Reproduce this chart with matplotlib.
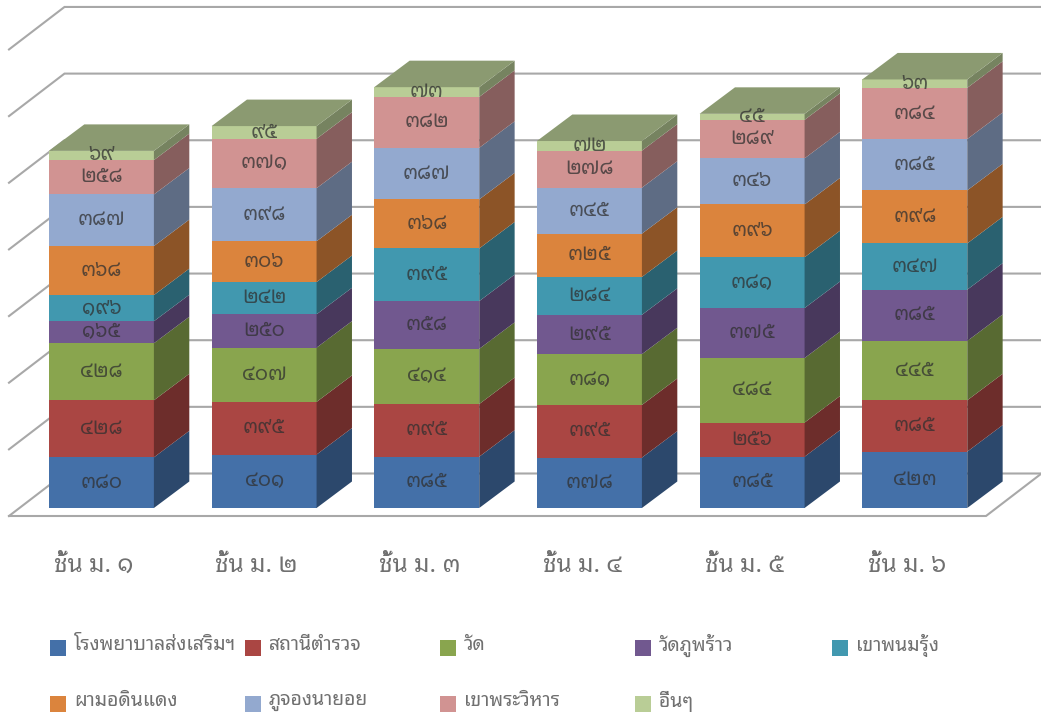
import matplotlib
matplotlib.use("Agg")
import matplotlib.pyplot as plt
from matplotlib.patches import Polygon, Rectangle
from matplotlib.colors import to_rgb

plt.rcParams['font.family'] = ['Noto Sans Thai Looped', 'Noto Sans Thai', 'DejaVu Sans']

W, H = 1041, 718

categories = ["ชั้น ม. ๑", "ชั้น ม. ๒", "ชั้น ม. ๓", "ชั้น ม. ๔", "ชั้น ม. ๕", "ชั้น ม. ๖"]
series_names = ["โรงพยาบาลส่งเสริมฯ", "สถานีตำรวจ", "วัด", "วัดภูพร้าว", "เขาพนมรุ้ง",
                "ผามอดินแดง", "ภูจองนายอย", "เขาพระวิหาร", "อื่นๆ"]
colors = ["#4470A8", "#AA4643", "#89A54E", "#71588F", "#4198AF",
          "#DB843D", "#93A9CF", "#D19392", "#B9CD96"]

hospital = [380, 401, 385, 378, 385, 423]
police = [428, 395, 395, 395, 256, 385]
temple = [428, 407, 414, 381, 484, 445]
phu_phrao = [165, 250, 358, 295, 375, 385]
phanom_rung = [196, 242, 395, 284, 381, 347]
pha_mo = [368, 306, 368, 325, 396, 398]
phu_chong = [387, 398, 387, 345, 346, 385]
phra_wihan = [258, 371, 382, 278, 289, 384]
others = [69, 95, 73, 72, 45, 63]
series = [hospital, police, temple, phu_phrao, phanom_rung, pha_mo, phu_chong, phra_wihan, others]

# scale of the picture, pixels per category / per student
PX_X = 162.67
PX_Y = 0.1333
BASE_X = 101.4
BASE_Y = 508

BAR_W = 105 / PX_X
DX = 35.4 / PX_X      # depth of the boxes
DY = 26.5 / PX_Y
WALL_DX = 55.5 / PX_X  # depth of the floor
WALL_Y0 = (BASE_Y - 473.5) / PX_Y
FLOOR_Y = (BASE_Y - 516) / PX_Y
FLOOR_X0 = (9 - BASE_X) / PX_X
FLOOR_X1 = (986 - BASE_X) / PX_X
GRID_COLOR = "#A8A8A8"


def shade(color, k):
    return tuple(c * k for c in to_rgb(color))


def thai_digits(n):
    return str(n).translate(str.maketrans("0123456789", "๐๑๒๓๔๕๖๗๘๙"))


fig = plt.figure(figsize=(W / 100, H / 100), dpi=100)
ax = fig.add_axes([0, 0, 1, 1])
ax.set_xlim(-BASE_X / PX_X, (W - BASE_X) / PX_X)
ax.set_ylim((BASE_Y - H) / PX_Y, BASE_Y / PX_Y)
ax.axis("off")

# back wall and floor
for k in range(8):
    y = WALL_Y0 + k * 500
    ax.plot([FLOOR_X0, FLOOR_X0 + WALL_DX, FLOOR_X1 + WALL_DX], [y + FLOOR_Y - WALL_Y0, y, y],
            color=GRID_COLOR, lw=1.5, zorder=1, solid_joinstyle="miter")
ax.plot([FLOOR_X0, FLOOR_X1, FLOOR_X1 + WALL_DX], [FLOOR_Y, FLOOR_Y, WALL_Y0],
        color=GRID_COLOR, lw=1.5, zorder=1, solid_joinstyle="miter")

# stacked boxes
x_pos = list(range(len(categories)))
for i in x_pos:
    bottom = 0
    left = i - BAR_W / 2
    right = i + BAR_W / 2
    for vals, col in zip(series, colors):
        v = vals[i]
        ax.bar(i, v, width=BAR_W, bottom=bottom, color=col, linewidth=0, zorder=3)
        ax.add_patch(Polygon([(right, bottom), (right + DX, bottom + DY),
                              (right + DX, bottom + v + DY), (right, bottom + v)],
                             closed=True, facecolor=shade(col, 0.64), linewidth=0, zorder=3))
        ax.text(i, bottom + v / 2, thai_digits(v), ha="center", va="center",
                fontsize=14.5, color="#303030", alpha=0.75, zorder=5)
        bottom += v
    # lid of the stack
    ax.add_patch(Polygon([(left, bottom), (right, bottom), (right + DX, bottom + DY), (left + DX, bottom + DY)],
                         closed=True, facecolor=shade(colors[-1], 0.75), linewidth=0, zorder=4))

# category labels
for i, name in zip(x_pos, categories):
    ax.text(i - 0.045, (BASE_Y - 566) / PX_Y, name, ha="center", va="center",
            fontsize=17.5, color="#707070", zorder=5)


def fx(px):
    return px / W


def fy(px):
    return 1 - px / H


# legend, laid out row by row on an even grid
legend_x = [50, 245, 440, 635, 832]
legend_y = [648, 704]
for n, (name, col) in enumerate(zip(series_names, colors)):
    x0 = legend_x[n % 5]
    y0 = legend_y[n // 5]
    fig.add_artist(Rectangle((fx(x0), fy(y0 + 8)), 16 / W, 16 / H, transform=fig.transFigure,
                             facecolor=col, edgecolor="none"))
    fig.text(fx(x0 + 24), fy(y0 - 3), name, ha="left", va="center", fontsize=14, color="#707070")

fig.savefig("out.png", dpi=100)
